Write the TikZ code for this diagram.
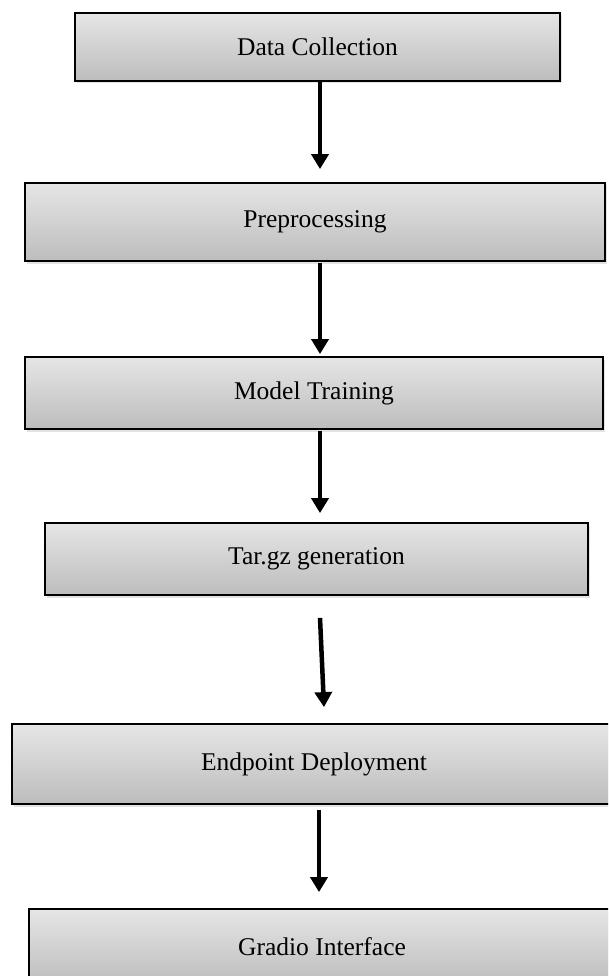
\documentclass[tikz,border=0pt]{standalone}
\usepackage{fontspec}
\setmainfont{Liberation Serif}
\usetikzlibrary{arrows.meta,shadows,positioning}

\tikzset{
  stage/.style={draw=black, line width=1.8pt, rectangle,
    top color=gray!20, bottom color=gray!52,
    drop shadow={shadow xshift=1.5pt, shadow yshift=-2.5pt, opacity=0.22},
    font=\fontsize{25.5}{30}\selectfont, inner sep=0pt},
  flow/.style={line width=4.5pt, -{Triangle[length=15pt,width=17pt]}}
}

\begin{document}
\begin{tikzpicture}[x=1pt, y=-1pt]
  \useasboundingbox (0,0) rectangle (608,976);
  \clip (0,0) rectangle (608,976);

  \node[stage, minimum width=485pt, minimum height=68pt] (dc)  at (317.5,47)  {Data Collection};
  \node[stage, minimum width=580pt, minimum height=78pt] (pre) at (315,222)   {Preprocessing};
  \node[stage, minimum width=578pt, minimum height=72pt] (mt)  at (314,393)   {Model Training};
  \node[stage, minimum width=543pt, minimum height=72pt] (tar) at (316.5,559) {Tar.gz generation};
  \node[stage, minimum width=604pt, minimum height=80pt] (ep)  at (314,764)   {Endpoint Deployment};
  \node[stage, minimum width=586pt, minimum height=76pt] (gr)  at (322,947)   {Gradio Interface};

  % arrows between the stages
  \draw[flow] ([xshift=2.5pt]dc.south) -- ([xshift=5pt,yshift=13pt]pre.north);
  \draw[flow] ([xshift=5pt,yshift=-1pt]pre.south) -- ([xshift=6pt,yshift=2pt]mt.north);
  \draw[flow] ([xshift=6pt,yshift=-1pt]mt.south) -- ([xshift=3.5pt,yshift=9pt]tar.north);
  \draw[flow] ([xshift=3.5pt,yshift=-22pt]tar.south) -- ([xshift=10pt,yshift=16pt]ep.north);
  \draw[flow] ([xshift=5pt,yshift=-5pt]ep.south) -- ([xshift=-3pt,yshift=16pt]gr.north);
\end{tikzpicture}
\end{document}
